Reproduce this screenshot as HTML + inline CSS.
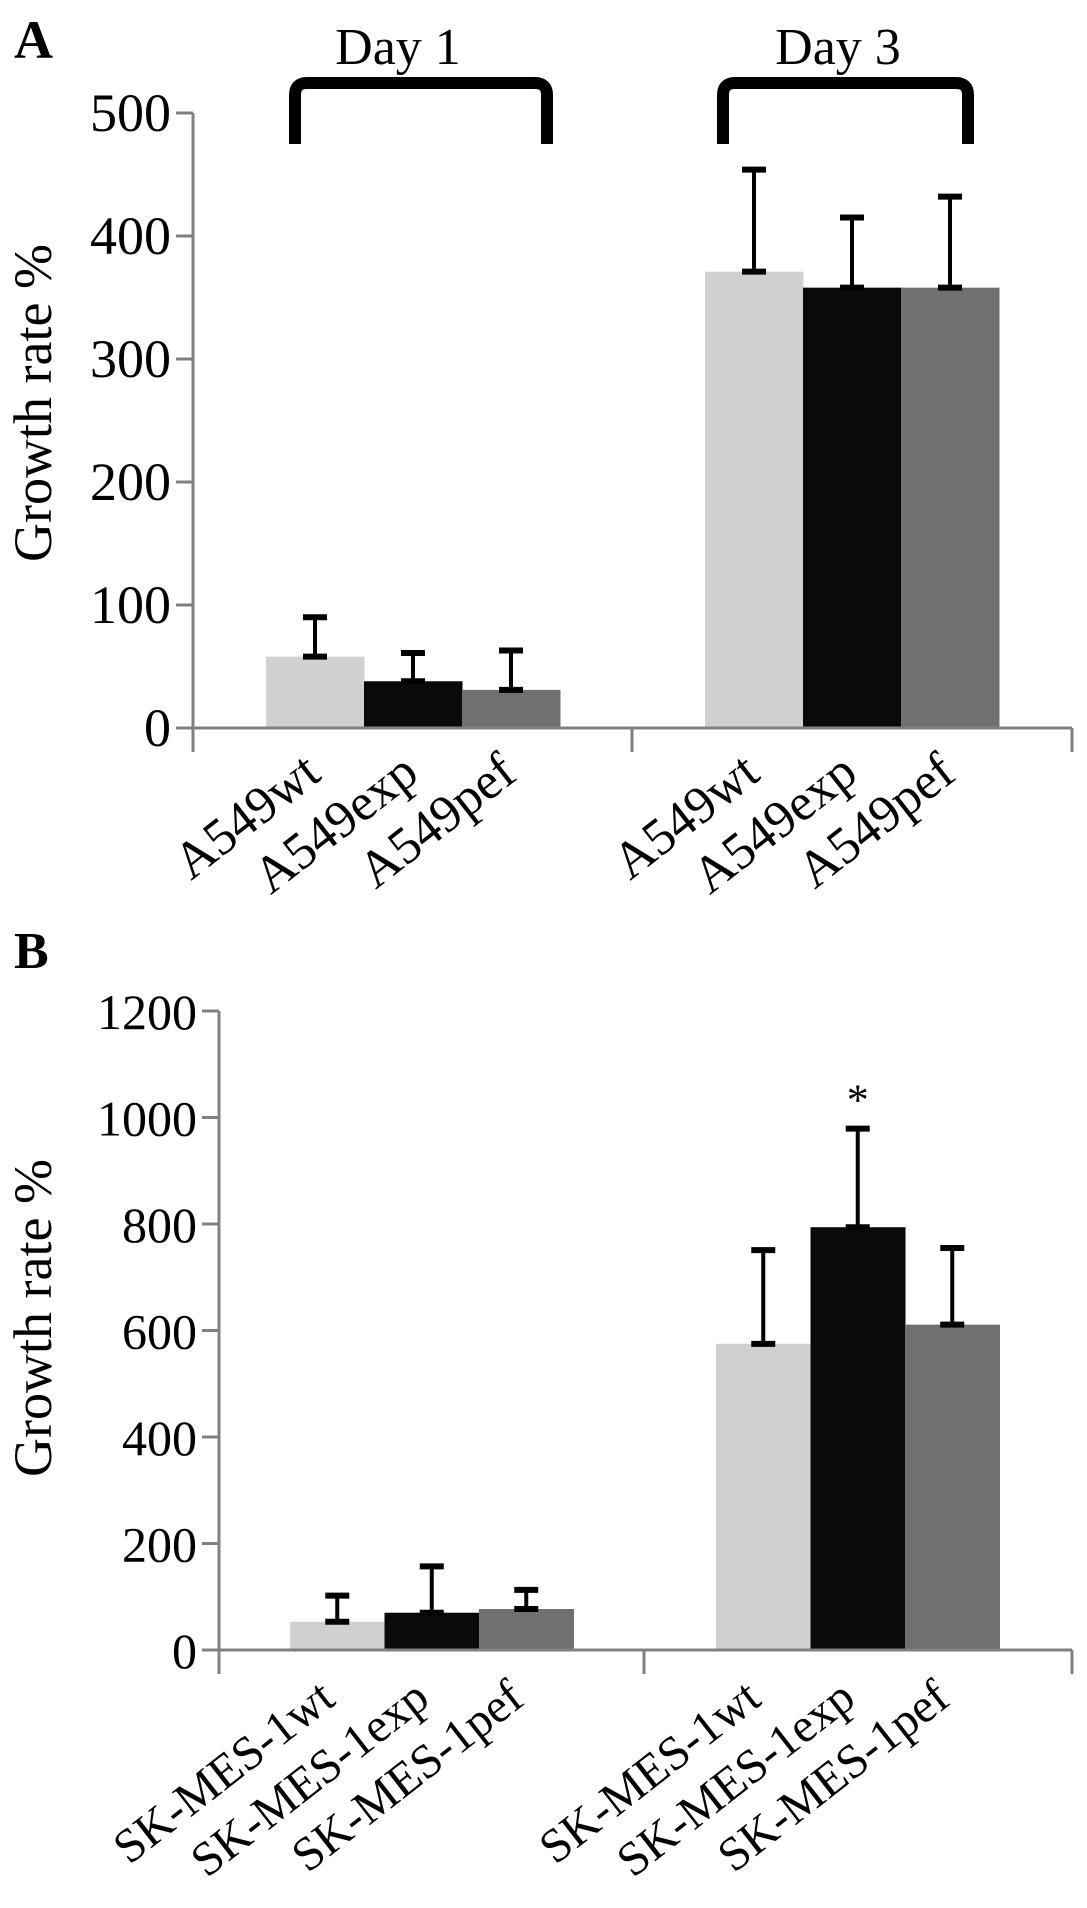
<!DOCTYPE html>
<html>
<head>
<meta charset="utf-8">
<style>
  html,body{margin:0;padding:0;background:#fff;}
  svg{display:block;}
  text{font-family:"Liberation Serif","Times New Roman",serif;fill:#000;}
</style>
</head>
<body>
<svg id="chart" width="1087" height="1908" viewBox="0 0 1087 1908" xmlns="http://www.w3.org/2000/svg">
  <text x="14" y="58" font-size="54" font-weight="bold">A</text>
  <text x="14" y="968" font-size="52" font-weight="bold">B</text>
  <text transform="translate(51,403) rotate(-90)" text-anchor="middle" font-size="54">Growth rate %</text>
  <text transform="translate(51,1318) rotate(-90)" text-anchor="middle" font-size="54">Growth rate %</text>
  <text x="398" y="64" text-anchor="middle" font-size="52">Day 1</text>
  <text x="838" y="64" text-anchor="middle" font-size="52">Day 3</text>
  <path d="M295 144 V95 Q295 83 307 83 H535 Q547 83 547 95 V144" fill="none" stroke="#000" stroke-width="12"/>
  <path d="M723 144 V95 Q723 83 735 83 H956 Q968 83 968 95 V144" fill="none" stroke="#000" stroke-width="12"/>
  <g id="panelA"></g>
  <g id="panelB"></g>
</svg>
<script>
// Panel A data
const aCategories = ["A549wt","A549exp","A549pef","A549wt","A549exp","A549pef"];
const aValues = [58, 38, 31, 371, 358, 358];
const aErrors = [32, 23, 32, 83, 57, 74];
const aTicks = [0, 100, 200, 300, 400, 500];
// Panel B data
const bCategories = ["SK-MES-1wt","SK-MES-1exp","SK-MES-1pef","SK-MES-1wt","SK-MES-1exp","SK-MES-1pef"];
const bValues = [53, 70, 77, 575, 794, 611];
const bErrors = [49, 87, 36, 176, 185, 144];
const bTicks = [0, 200, 400, 600, 800, 1000, 1200];
const bSignificant = [false, false, false, false, true, false];

const NS = "http://www.w3.org/2000/svg";
const fills = ["#d0d0d0", "#0a0a0a", "#707070"];

function mk(parent, tag, attrs) {
  const e = document.createElementNS(NS, tag);
  for (const k in attrs) e.setAttribute(k, attrs[k]);
  parent.appendChild(e);
  return e;
}

function drawPanel(g, cfg, cats, vals, errs, ticks, sig) {
  const yScale = v => cfg.y0 - v / cfg.yMax * (cfg.y0 - cfg.yTop);
  vals.forEach((v, i) => {
    const grp = Math.floor(i / 3), k = i % 3;
    const x = cfg.groupStart[grp] + k * cfg.barW;
    const r = mk(g, "rect", {x: x, y: yScale(v), width: cfg.barW + 0.5, height: cfg.y0 - yScale(v), fill: fills[k]});
    
    
  });
  vals.forEach((v, i) => {
    const grp = Math.floor(i / 3), k = i % 3;
    const cx = cfg.groupStart[grp] + k * cfg.barW + cfg.barW / 2;
    const eg = mk(g, "g", {stroke: "#000", fill: "none"});
    
    
    const yt = yScale(v + errs[i]), yb = yScale(v);
    mk(eg, "line", {x1: cx, x2: cx, y1: yt, y2: yb, "stroke-width": 4});
    mk(eg, "line", {x1: cx - 12, x2: cx + 12, y1: yt, y2: yt, "stroke-width": 6});
    mk(eg, "line", {x1: cx - 12, x2: cx + 12, y1: yb, y2: yb, "stroke-width": 6});
    if (sig && sig[i]) {
      const s = mk(g, "text", {x: cx, y: yt - 14, "text-anchor": "middle", "font-size": 44});
      s.textContent = "*";
      
      
    }
  });
  const ax = mk(g, "line", {x1: cfg.axX, x2: cfg.axX, y1: yScale(ticks[ticks.length - 1]), y2: cfg.y0 + 24, stroke: "#808080", "stroke-width": 3});
  
  
  ticks.forEach(t => {
    const y = yScale(t);
    const tl = mk(g, "line", {x1: cfg.axX - 17, x2: cfg.axX, y1: y, y2: y, stroke: "#808080", "stroke-width": 3});
    
    
    const tx = mk(g, "text", {x: cfg.axX - 22, y: y + 18, "text-anchor": "end", "font-size": cfg.tickFont});
    tx.textContent = t;
    
    
  });
  const xa = mk(g, "line", {x1: cfg.axX, x2: cfg.xEnd, y1: cfg.y0, y2: cfg.y0, stroke: "#808080", "stroke-width": 3});
  
  
  [cfg.midTick, cfg.xEnd].forEach(x => {
    const l = mk(g, "line", {x1: x, x2: x, y1: cfg.y0, y2: cfg.y0 + 24, stroke: "#808080", "stroke-width": 3});
    
    
  });
  cats.forEach((c, i) => {
    const grp = Math.floor(i / 3), k = i % 3;
    const cx = cfg.groupStart[grp] + k * cfg.barW + cfg.barW / 2 + cfg.labelDx;
    const t = mk(g, "text", {transform: "translate(" + cx + "," + (cfg.y0 + cfg.labelDy) + ") rotate(-38)", "text-anchor": "end", "font-size": cfg.labelFont});
    t.textContent = c;
    
    
  });
}

drawPanel(document.getElementById("panelA"),
  {y0: 728, yTop: 113, yMax: 500, axX: 193, xEnd: 1072, midTick: 632, groupStart: [266, 705], barW: 98, tickFont: 54, labelFont: 52, labelDx: 8, labelDy: 50},
  aCategories, aValues, aErrors, aTicks, null);
drawPanel(document.getElementById("panelB"),
  {y0: 1650, yTop: 1011, yMax: 1200, axX: 219, xEnd: 1072, midTick: 644, groupStart: [290, 716], barW: 94.5, tickFont: 50, labelFont: 48, labelDx: 0, labelDy: 53},
  bCategories, bValues, bErrors, bTicks, bSignificant);
</script>
</body>
</html>
